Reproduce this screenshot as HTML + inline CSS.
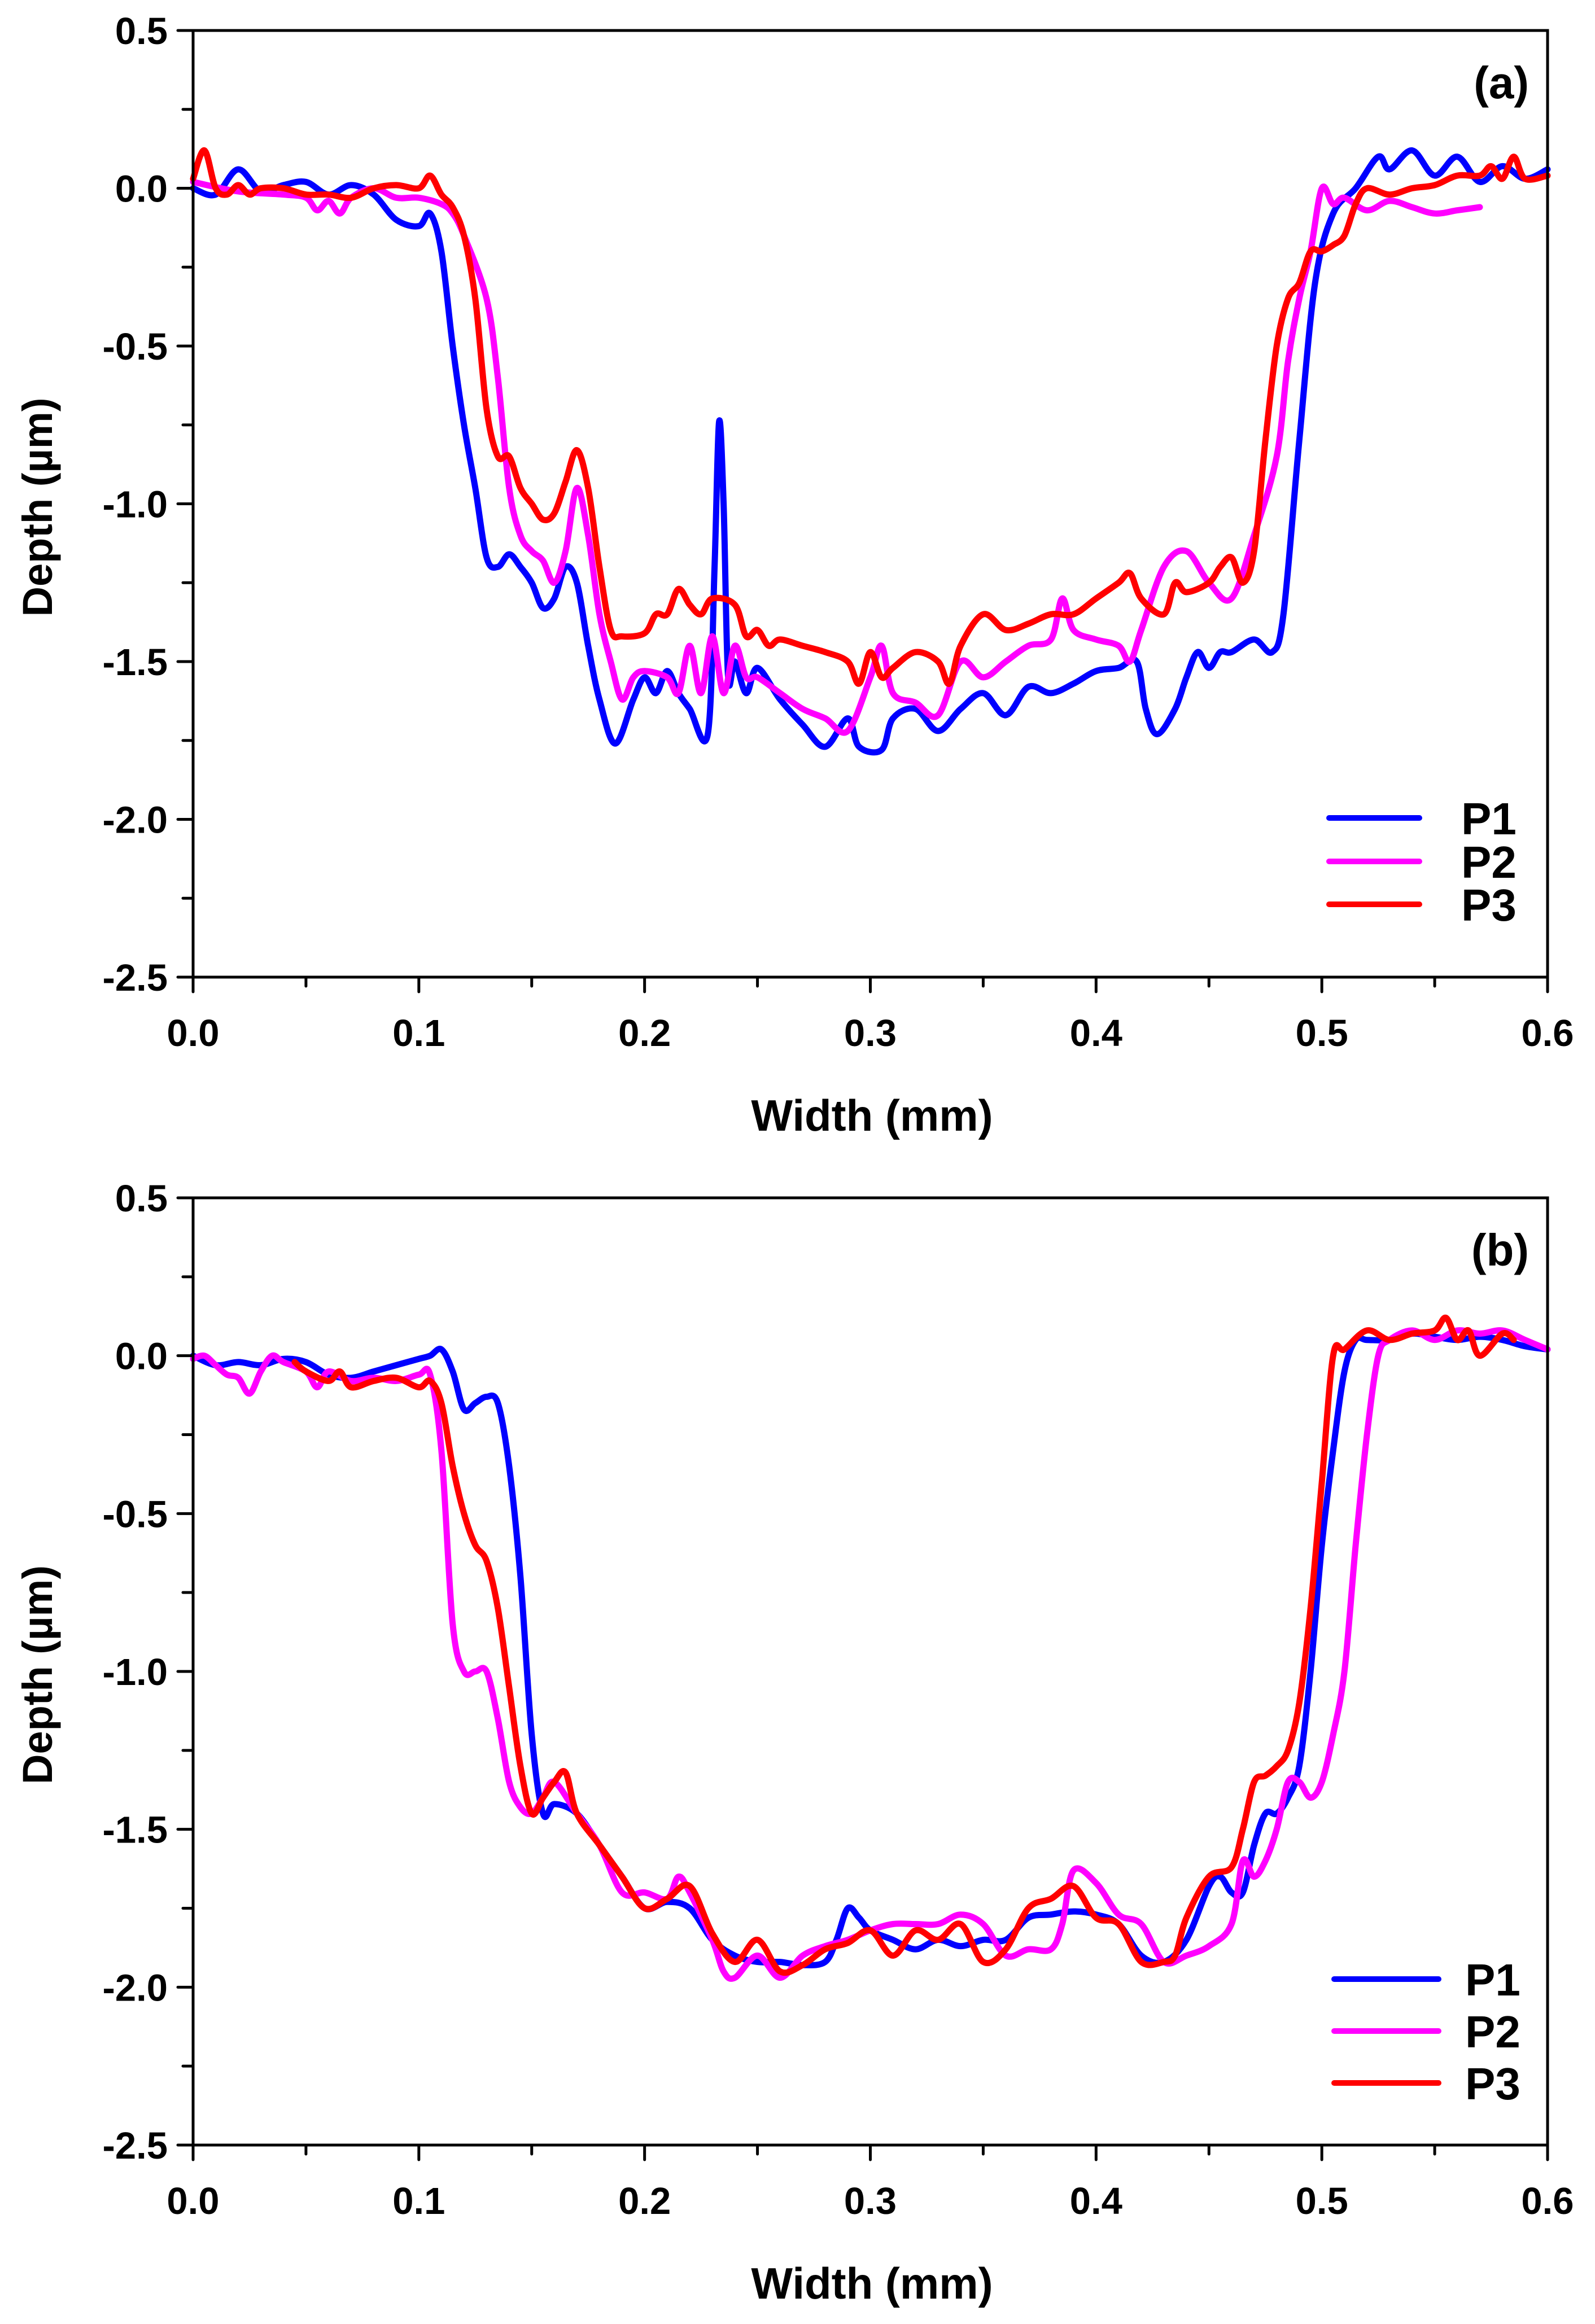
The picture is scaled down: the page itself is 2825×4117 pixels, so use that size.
<!DOCTYPE html>
<html><head><meta charset="utf-8">
<style>
html,body{margin:0;padding:0;background:#fff;}
svg{display:block;}
text{font-family:"Liberation Sans",Arial,sans-serif;font-weight:bold;fill:#000;}
</style></head>
<body>
<svg id="fig" width="2825" height="4117" viewBox="0 0 2825 4117" xmlns="http://www.w3.org/2000/svg"></svg>
<script>
// ---- data (x in mm, depth in µm) ----
const xTicks = [0.0, 0.1, 0.2, 0.3, 0.4, 0.5, 0.6];
const xTickLabels = ["0.0","0.1","0.2","0.3","0.4","0.5","0.6"];
const yTicks = [0.5, 0.0, -0.5, -1.0, -1.5, -2.0, -2.5];
const yTickLabels = ["0.5","0.0","-0.5","-1.0","-1.5","-2.0","-2.5"];
const seriesNames = ["P1","P2","P3"];

const aP1x = [0,0.01,0.02,0.03,0.04,0.05,0.06,0.07,0.08,0.09,0.1,0.105,0.11,0.115,0.12,0.125,0.13,0.135,0.14,0.145,0.15,0.155,0.16,0.165,0.17,0.175,0.18,0.187,0.195,0.2,0.205,0.21,0.215,0.22,0.228,0.231,0.233,0.235,0.237,0.24,0.245,0.25,0.26,0.27,0.28,0.29,0.295,0.305,0.31,0.32,0.33,0.34,0.35,0.36,0.37,0.38,0.39,0.4,0.41,0.418,0.422,0.427,0.435,0.44,0.445,0.45,0.455,0.46,0.47,0.478,0.483,0.49,0.497,0.505,0.515,0.525,0.53,0.54,0.55,0.56,0.57,0.58,0.59,0.6];
const aP1y = [0,-0.02,0.06,-0.01,0.01,0.02,-0.02,0.01,-0.02,-0.1,-0.12,-0.08,-0.2,-0.5,-0.75,-0.95,-1.17,-1.2,-1.16,-1.2,-1.25,-1.33,-1.3,-1.2,-1.25,-1.45,-1.62,-1.76,-1.62,-1.55,-1.6,-1.53,-1.6,-1.65,-1.73,-1.2,-0.74,-1.0,-1.55,-1.5,-1.6,-1.52,-1.62,-1.7,-1.77,-1.68,-1.77,-1.78,-1.68,-1.65,-1.72,-1.65,-1.6,-1.67,-1.58,-1.6,-1.57,-1.53,-1.52,-1.5,-1.65,-1.73,-1.65,-1.55,-1.47,-1.52,-1.47,-1.47,-1.43,-1.47,-1.35,-0.8,-0.3,-0.08,0.0,0.1,0.06,0.12,0.04,0.1,0.02,0.07,0.03,0.06];

const aP2x = [0,0.02,0.04,0.05,0.055,0.06,0.065,0.07,0.08,0.09,0.1,0.11,0.115,0.12,0.13,0.135,0.14,0.145,0.15,0.155,0.16,0.165,0.17,0.175,0.18,0.185,0.19,0.195,0.2,0.21,0.215,0.22,0.225,0.23,0.235,0.24,0.245,0.25,0.26,0.27,0.28,0.29,0.3,0.305,0.31,0.32,0.33,0.34,0.35,0.36,0.37,0.38,0.385,0.39,0.4,0.41,0.415,0.42,0.43,0.44,0.45,0.46,0.47,0.48,0.485,0.49,0.495,0.5,0.505,0.51,0.52,0.53,0.54,0.55,0.56,0.57];
const aP2y = [0.02,-0.01,-0.02,-0.03,-0.07,-0.04,-0.08,-0.03,0.0,-0.03,-0.03,-0.05,-0.08,-0.15,-0.35,-0.6,-0.95,-1.1,-1.15,-1.18,-1.25,-1.15,-0.95,-1.1,-1.35,-1.5,-1.62,-1.55,-1.53,-1.55,-1.6,-1.45,-1.6,-1.42,-1.6,-1.45,-1.55,-1.55,-1.6,-1.65,-1.68,-1.72,-1.55,-1.45,-1.6,-1.63,-1.67,-1.5,-1.55,-1.5,-1.45,-1.43,-1.3,-1.4,-1.43,-1.45,-1.5,-1.4,-1.2,-1.15,-1.25,-1.3,-1.1,-0.85,-0.55,-0.35,-0.2,0.0,-0.05,-0.03,-0.07,-0.04,-0.06,-0.08,-0.07,-0.06];

const aP3x = [0,0.005,0.01,0.015,0.02,0.025,0.03,0.04,0.05,0.06,0.07,0.08,0.09,0.1,0.105,0.11,0.115,0.12,0.125,0.13,0.135,0.14,0.145,0.15,0.155,0.16,0.165,0.17,0.175,0.18,0.185,0.19,0.2,0.205,0.21,0.215,0.22,0.225,0.23,0.24,0.245,0.25,0.255,0.26,0.27,0.28,0.29,0.295,0.3,0.305,0.31,0.32,0.33,0.335,0.34,0.35,0.36,0.37,0.38,0.39,0.4,0.41,0.415,0.42,0.43,0.435,0.44,0.45,0.455,0.46,0.465,0.47,0.475,0.48,0.485,0.49,0.495,0.5,0.505,0.51,0.515,0.52,0.53,0.54,0.55,0.56,0.57,0.575,0.58,0.585,0.59,0.6];
const aP3y = [0.03,0.12,0.0,-0.02,0.01,-0.02,0.0,0.0,-0.02,-0.02,-0.03,0.0,0.01,0.0,0.04,-0.02,-0.06,-0.15,-0.35,-0.7,-0.85,-0.85,-0.95,-1.0,-1.05,-1.03,-0.93,-0.83,-0.95,-1.2,-1.4,-1.42,-1.41,-1.35,-1.35,-1.27,-1.32,-1.35,-1.3,-1.32,-1.42,-1.4,-1.45,-1.43,-1.45,-1.47,-1.5,-1.57,-1.47,-1.55,-1.52,-1.47,-1.5,-1.57,-1.45,-1.35,-1.4,-1.38,-1.35,-1.35,-1.3,-1.25,-1.22,-1.3,-1.35,-1.25,-1.28,-1.25,-1.2,-1.17,-1.25,-1.15,-0.8,-0.5,-0.35,-0.3,-0.2,-0.2,-0.18,-0.15,-0.05,0.0,-0.02,0.0,0.01,0.04,0.04,0.07,0.03,0.1,0.03,0.04];

const bP1x = [0,0.01,0.02,0.03,0.04,0.05,0.06,0.07,0.08,0.09,0.1,0.105,0.11,0.115,0.12,0.125,0.13,0.135,0.14,0.145,0.15,0.155,0.16,0.17,0.18,0.19,0.2,0.21,0.22,0.23,0.24,0.25,0.26,0.27,0.28,0.285,0.29,0.295,0.3,0.31,0.32,0.33,0.34,0.35,0.36,0.37,0.38,0.39,0.4,0.41,0.42,0.43,0.44,0.45,0.455,0.46,0.465,0.47,0.475,0.48,0.485,0.49,0.495,0.5,0.505,0.51,0.515,0.52,0.53,0.54,0.55,0.56,0.57,0.58,0.59,0.6];
const bP1y = [0,-0.03,-0.02,-0.03,-0.01,-0.02,-0.06,-0.07,-0.05,-0.03,-0.01,0.0,0.02,-0.05,-0.17,-0.15,-0.13,-0.15,-0.35,-0.7,-1.2,-1.45,-1.42,-1.45,-1.55,-1.65,-1.75,-1.73,-1.75,-1.85,-1.9,-1.92,-1.92,-1.93,-1.92,-1.85,-1.75,-1.78,-1.82,-1.85,-1.88,-1.85,-1.87,-1.85,-1.85,-1.78,-1.77,-1.76,-1.77,-1.8,-1.9,-1.92,-1.85,-1.68,-1.65,-1.7,-1.7,-1.55,-1.45,-1.45,-1.4,-1.3,-1.0,-0.6,-0.3,-0.05,0.05,0.05,0.05,0.07,0.06,0.05,0.06,0.05,0.03,0.02];

const bP2x = [0,0.005,0.01,0.015,0.02,0.025,0.03,0.035,0.04,0.05,0.055,0.06,0.07,0.08,0.09,0.1,0.105,0.11,0.115,0.12,0.125,0.13,0.135,0.14,0.145,0.15,0.155,0.16,0.17,0.18,0.19,0.2,0.21,0.215,0.22,0.23,0.235,0.24,0.25,0.26,0.27,0.28,0.29,0.3,0.31,0.32,0.33,0.34,0.35,0.36,0.37,0.38,0.385,0.39,0.4,0.41,0.42,0.43,0.44,0.45,0.46,0.465,0.47,0.475,0.48,0.485,0.49,0.495,0.5,0.505,0.51,0.515,0.52,0.525,0.53,0.54,0.55,0.56,0.57,0.58,0.59,0.6];
const bP2y = [-0.01,0.0,-0.03,-0.06,-0.07,-0.12,-0.05,0.0,-0.02,-0.05,-0.1,-0.05,-0.08,-0.07,-0.08,-0.06,-0.06,-0.3,-0.85,-1.0,-1.0,-1.0,-1.15,-1.35,-1.43,-1.45,-1.4,-1.35,-1.45,-1.55,-1.7,-1.7,-1.72,-1.65,-1.7,-1.85,-1.95,-1.97,-1.9,-1.97,-1.9,-1.87,-1.85,-1.82,-1.8,-1.8,-1.8,-1.77,-1.8,-1.9,-1.88,-1.88,-1.8,-1.63,-1.67,-1.77,-1.8,-1.92,-1.9,-1.87,-1.8,-1.6,-1.65,-1.6,-1.5,-1.35,-1.35,-1.4,-1.35,-1.2,-1.0,-0.6,-0.25,0.0,0.05,0.08,0.05,0.08,0.07,0.08,0.05,0.02];

const bP3x = [0.045,0.05,0.06,0.065,0.07,0.08,0.09,0.1,0.105,0.11,0.115,0.12,0.125,0.13,0.135,0.14,0.145,0.15,0.155,0.16,0.165,0.17,0.18,0.19,0.2,0.21,0.22,0.23,0.24,0.25,0.26,0.27,0.28,0.29,0.3,0.31,0.32,0.33,0.34,0.35,0.36,0.37,0.38,0.39,0.4,0.41,0.42,0.43,0.435,0.44,0.45,0.46,0.465,0.47,0.475,0.48,0.485,0.49,0.495,0.5,0.505,0.51,0.52,0.53,0.54,0.55,0.555,0.56,0.565,0.57,0.58,0.585];
const bP3y = [-0.02,-0.05,-0.08,-0.05,-0.1,-0.08,-0.07,-0.1,-0.08,-0.15,-0.35,-0.5,-0.6,-0.65,-0.8,-1.05,-1.3,-1.45,-1.4,-1.35,-1.32,-1.45,-1.55,-1.65,-1.75,-1.72,-1.68,-1.83,-1.92,-1.85,-1.95,-1.93,-1.88,-1.86,-1.82,-1.9,-1.82,-1.85,-1.8,-1.92,-1.88,-1.75,-1.72,-1.68,-1.78,-1.8,-1.92,-1.92,-1.9,-1.78,-1.65,-1.62,-1.5,-1.35,-1.33,-1.3,-1.25,-1.1,-0.8,-0.4,0.0,0.02,0.08,0.05,0.07,0.08,0.12,0.05,0.08,0.0,0.07,0.05];

const colors = ["#0000ff","#ff00ff","#ff0000"];

const svg = document.getElementById('fig');
const NS = "http://www.w3.org/2000/svg";
function mk(tag, attrs, parent){
  const e = document.createElementNS(NS, tag);
  for (const k in attrs) e.setAttribute(k, attrs[k]);
  parent.appendChild(e);
  return e;
}
function smoothPath(pts){
  if (pts.length < 2) return '';
  let d = 'M' + pts[0][0].toFixed(1) + ',' + pts[0][1].toFixed(1);
  const t = 0.5 / 3;
  for (let i = 0; i < pts.length - 1; i++) {
    const p0 = pts[i - 1] || pts[i], p1 = pts[i], p2 = pts[i + 1], p3 = pts[i + 2] || p2;
    const c1x = p1[0] + (p2[0] - p0[0]) * t, c1y = p1[1] + (p2[1] - p0[1]) * t;
    const c2x = p2[0] - (p3[0] - p1[0]) * t, c2y = p2[1] - (p3[1] - p1[1]) * t;
    d += 'C' + c1x.toFixed(1) + ',' + c1y.toFixed(1) + ' ' + c2x.toFixed(1) + ',' + c2y.toFixed(1) + ' ' + p2[0].toFixed(1) + ',' + p2[1].toFixed(1);
  }
  return d;
}

function panel(cfg){
  const g = mk('g', {}, svg);
  
  
  const L=342, R=2741, T=cfg.top, B=cfg.bottom;
  const sx = v => L + (v - 0) / 0.6 * (R - L);
  const sy = v => T + (0.5 - v) / 3.0 * (B - T);

  const sg = mk('g', {}, g);
  
  
  cfg.series.forEach((s, i) => {
    const pts = s.x.map((xv, j) => [sx(xv), sy(s.y[j])]);
    const p = mk('path', {d: smoothPath(pts), fill:'none', stroke: colors[i], 'stroke-width': 11, 'stroke-linejoin':'round', 'stroke-linecap':'round'}, sg);
    
    
  });

  const ax = mk('path', {d:`M${L},${T}H${R}V${B}H${L}Z`, fill:'none', stroke:'#000', 'stroke-width':5}, g);
  
  

  for (let k = 0; k <= 12; k++) {
    const v = 0.5 - k * 0.25;
    const major = k % 2 === 0;
    const t = mk('line', {x1: L - (major ? 27 : 18), x2: L, y1: sy(v), y2: sy(v), stroke:'#000', 'stroke-width':5, 'stroke-linecap':'round'}, g);
    
    
  }
  yTicks.forEach((v, i) => {
    const t = mk('text', {x: 297, y: sy(v) + 24, 'font-size': 67, 'text-anchor':'end'}, g);
    t.textContent = yTickLabels[i];
    
    
  });
  for (let k = 0; k <= 12; k++) {
    const v = k * 0.05;
    const major = k % 2 === 0;
    const t = mk('line', {x1: sx(v), x2: sx(v), y1: B, y2: B + (major ? 26 : 16), stroke:'#000', 'stroke-width':5, 'stroke-linecap':'round'}, g);
    
    
  }
  xTicks.forEach((v, i) => {
    const t = mk('text', {x: sx(v), y: B + 122, 'font-size': 67, 'text-anchor':'middle'}, g);
    t.textContent = xTickLabels[i];
    
    
  });
  const xt = mk('text', {x: (L + R) / 2 + 3, y: B + 272, 'font-size': 78, 'text-anchor':'middle'}, g);
  xt.textContent = 'Width (mm)';
  
  
  const ym = (T + B) / 2;
  const yt = mk('text', {x: 0, y: 0, 'font-size': 74, 'text-anchor':'middle', transform:`translate(92,${ym + 6}) rotate(-90)`}, g);
  yt.textContent = 'Depth (µm)';
  
  
  const pl = mk('text', {x: 2708, y: T + 120, 'font-size': 80, 'text-anchor':'end'}, g);
  pl.textContent = cfg.label;
  
  

  const lg = mk('g', {}, g);
  
  
  seriesNames.forEach((n, i) => {
    const ly = cfg.legY[i];
    const ln = mk('line', {x1: cfg.legX1, x2: cfg.legX2, y1: ly, y2: ly, stroke: colors[i], 'stroke-width': 10, 'stroke-linecap':'round'}, lg);
    
    
    const tx = mk('text', {x: cfg.legTX, y: ly + 29, 'font-size': 80}, lg);
    tx.textContent = n;
    
    
  });
}

panel({name:'panel-a', label:'(a)', top:54, bottom:1731,
  series:[{x:aP1x,y:aP1y},{x:aP2x,y:aP2y},{x:aP3x,y:aP3y}],
  legX1:2354, legX2:2514, legTX:2588, legY:[1449,1526,1602]});
panel({name:'panel-b', label:'(b)', top:2122, bottom:3800,
  series:[{x:bP1x,y:bP1y},{x:bP2x,y:bP2y},{x:bP3x,y:bP3y}],
  legX1:2363, legX2:2548, legTX:2595, legY:[3506,3598,3690]});
</script>
</body></html>
